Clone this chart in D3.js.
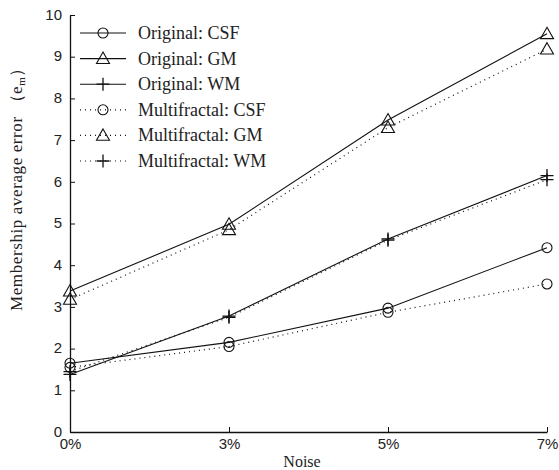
<!DOCTYPE html>
<html>
<head>
<meta charset="utf-8">
<script src="https://cdn.jsdelivr.net/npm/d3@7"></script>
<style>
  body { margin: 0; background: #fff; }
  svg text { fill: #222; }
  .tick-label { font-family: "Liberation Sans Narrow", "Liberation Sans", Arial, sans-serif; }
  .serif { font-family: "Liberation Serif", "Times New Roman", serif; }
</style>
</head>
<body>
<div id="chart"></div>
<script>
const categories = ['0%', '3%', '5%', '7%'];
const yTicks = [0, 1, 2, 3, 4, 5, 6, 7, 8, 9, 10];

const origCSF = [1.65, 2.15, 2.97, 4.42];
const origGM = [3.38, 4.98, 7.48, 9.55];
const origWM = [1.38, 2.78, 4.63, 6.15];
const multiCSF = [1.55, 2.05, 2.87, 3.55];
const multiGM = [3.18, 4.85, 7.3, 9.18];
const multiWM = [1.45, 2.75, 4.6, 6.05];

const seriesNames = ['Original: CSF', 'Original: GM', 'Original: WM',
                     'Multifractal: CSF', 'Multifractal: GM', 'Multifractal: WM'];
const seriesValues = [origCSF, origGM, origWM, multiCSF, multiGM, multiWM];
const seriesMarkers = ['circle', 'triangle', 'plus', 'circle', 'triangle', 'plus'];
const seriesDashed = [false, false, false, true, true, true];

const width = 559, height = 470;
const margin = { left: 70, right: 12, top: 15, bottom: 38 };

const svg = d3.select('#chart').append('svg')
    .attr('width', width)
    .attr('height', height);

const x = d3.scalePoint()
    .domain(categories)
    .range([margin.left, width - margin.right]);

const y = d3.scaleLinear()
    .domain([0, 10])
    .range([height - margin.bottom, margin.top]);

// axes, ticks pointing inward
const xAxis = svg.append('g')
    .attr('transform', `translate(0,${height - margin.bottom})`)
    .call(d3.axisBottom(x).tickSizeInner(-5).tickSizeOuter(0).tickPadding(8));
const yAxis = svg.append('g')
    .attr('transform', `translate(${margin.left},0)`)
    .call(d3.axisLeft(y).tickValues(yTicks).tickFormat(d3.format('d'))
        .tickSizeInner(-5).tickSizeOuter(0).tickPadding(8));

[xAxis, yAxis].forEach(a => {
    a.select('.domain').attr('stroke', '#111').attr('stroke-width', 1.3);
    a.selectAll('.tick line').attr('stroke', '#111');
    a.selectAll('.tick text').attr('class', 'tick-label').attr('fill', '#222')
        .style('font-size', '15px');
});
xAxis.selectAll('.tick text').attr('dy', '0.62em');
yAxis.selectAll('.tick text').attr('dy', '0.28em');

// axis labels
svg.append('text')
    .attr('class', 'serif')
    .attr('x', 302)
    .attr('y', height - 3)
    .attr('text-anchor', 'middle')
    .style('font-size', '16px')
    .text('Noise');

const yl = svg.append('text')
    .attr('class', 'serif')
    .attr('transform', 'translate(22,185) rotate(-90)')
    .attr('text-anchor', 'middle')
    .style('font-size', '17px')
    .style('letter-spacing', '0.6px');
yl.append('tspan').text('Membership average error\u00a0\uff08e');
yl.append('tspan').attr('dy', 3).style('font-size', '11px').text('m');
yl.append('tspan').attr('dy', -3).text('\uff09');

function drawMarker(g, type, cx, cy) {
    if (type === 'circle') {
        g.append('circle').attr('cx', cx).attr('cy', cy).attr('r', 5)
            .attr('fill', 'none').attr('stroke', '#111').attr('stroke-width', 1.1);
    } else if (type === 'triangle') {
        const s = 6.5;
        g.append('path')
            .attr('d', `M${cx},${cy - s} L${cx + s},${cy + s * 0.75} L${cx - s},${cy + s * 0.75} Z`)
            .attr('fill', 'none').attr('stroke', '#111').attr('stroke-width', 1.1);
    } else {
        const s = 6.5;
        g.append('path')
            .attr('d', `M${cx - s},${cy} H${cx + s} M${cx},${cy - s} V${cy + s}`)
            .attr('stroke', '#111').attr('stroke-width', 1.3);
    }
}

const line = d3.line()
    .x((d, i) => x(categories[i]))
    .y(d => y(d));

seriesValues.forEach((vals, si) => {
    const g = svg.append('g');
    g.append('path')
        .datum(vals)
        .attr('d', line)
        .attr('fill', 'none')
        .attr('stroke', '#111')
        .attr('stroke-width', seriesDashed[si] ? 1.2 : 1.1)
        .attr('stroke-dasharray', seriesDashed[si] ? '1,4' : null);
    vals.forEach((v, i) => drawMarker(g, seriesMarkers[si], x(categories[i]), y(v)));
});

// legend (no frame)
const legend = svg.append('g').attr('transform', 'translate(80,33)');
seriesNames.forEach((name, i) => {
    const row = legend.append('g').attr('transform', `translate(0,${i * 25.6})`);
    row.append('line')
        .attr('x1', 0).attr('x2', 46).attr('y1', 0).attr('y2', 0)
        .attr('stroke', '#111')
        .attr('stroke-width', seriesDashed[i] ? 1.2 : 1.1)
        .attr('stroke-dasharray', seriesDashed[i] ? '1,4' : null);
    drawMarker(row, seriesMarkers[i], 23, 0);
    row.append('text')
        .attr('class', 'serif')
        .attr('x', 58)
        .attr('y', 6)
        .style('font-size', '18px')
        .text(name);
});
</script>
</body>
</html>
